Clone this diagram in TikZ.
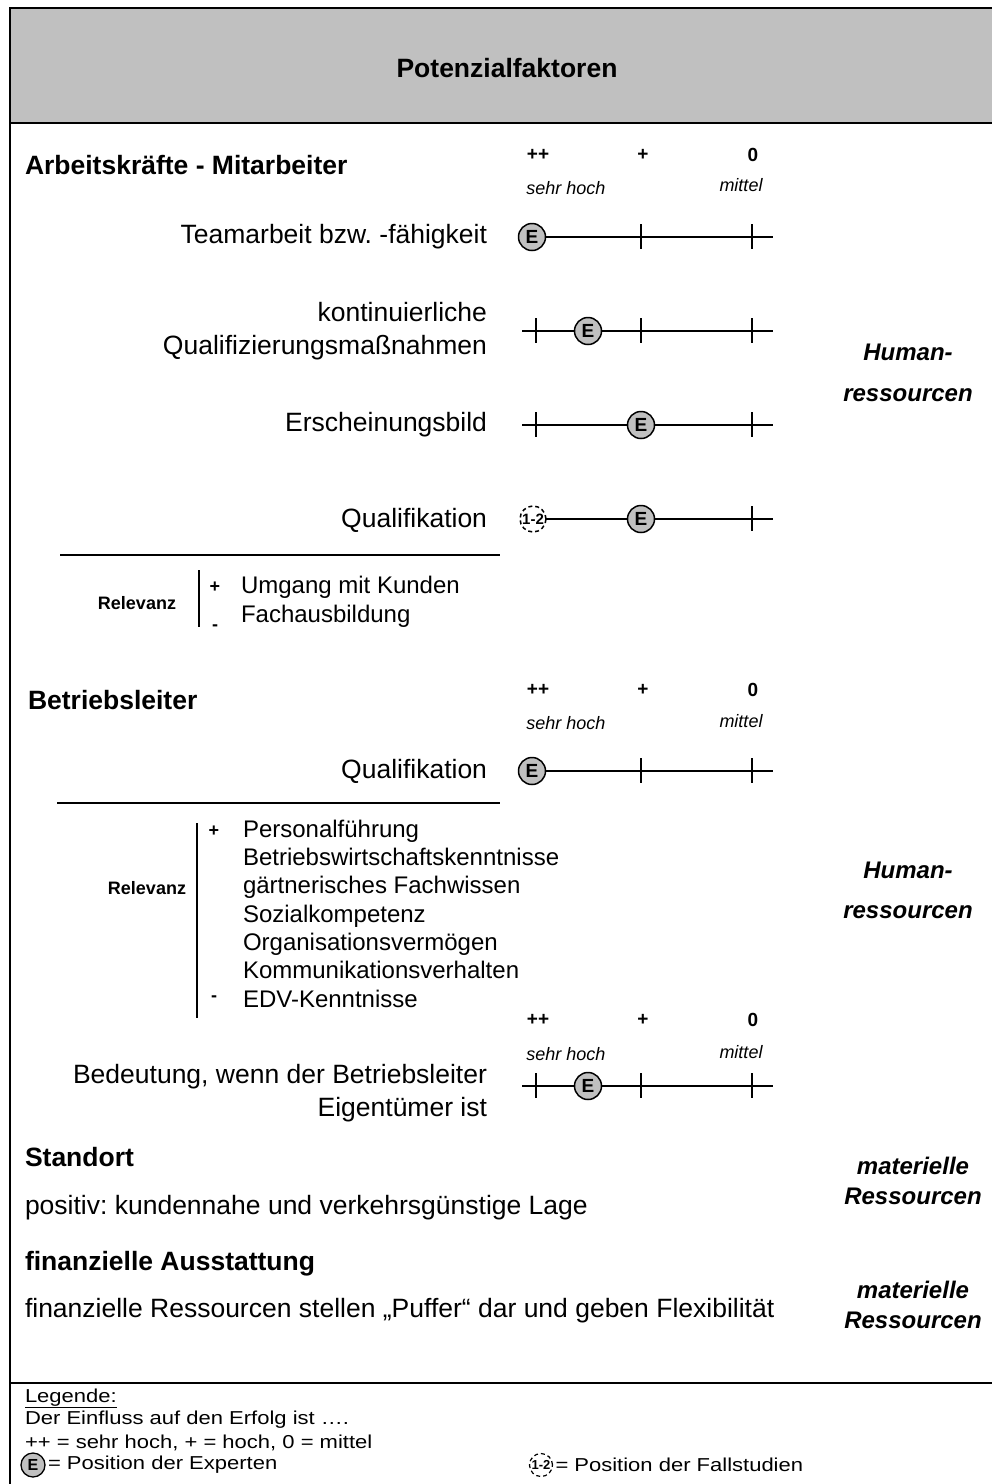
\documentclass[tikz,border=0pt]{standalone}
\usepackage{fontspec}
\usepackage{graphicx}
\setmainfont{Liberation Sans}
\frenchspacing
\definecolor{panelgray}{RGB}{192,192,192}
\newcommand\tickat[1]{\draw[tickmark] ([yshift=13pt]#1) -- ([yshift=-12pt]#1);}
\newcommand\legtext[1]{\scalebox{1}[0.85]{#1}}
\begin{document}
\begin{tikzpicture}[x=1pt,y=-1pt,
  every node/.style={inner sep=0pt, outer sep=0pt},
  txt/.style={font=\fontsize{26.5}{33}\selectfont},
  hd/.style={font=\fontsize{26.5}{32}\selectfont\bfseries},
  item/.style={font=\fontsize{24}{28}\selectfont, anchor=west, text height=17pt, text depth=5pt},
  sg/.style={font=\fontsize{19}{22}\selectfont\bfseries},
  sgi/.style={font=\fontsize{18}{22}\selectfont\itshape},
  res/.style={font=\fontsize{24}{30}\selectfont\bfseries\itshape, align=center},
  rel/.style={font=\fontsize{18}{22}\selectfont\bfseries},
  leg/.style={font=\fontsize{22}{22}\selectfont, anchor=west},
  emark/.style={circle, draw, line width=1.5pt, fill=panelgray, minimum size=27pt,
    font=\fontsize{19}{19}\selectfont\bfseries},
  cmark/.style={circle, draw, dashed, dash pattern=on 4pt off 3pt, line width=1.5pt,
    minimum size=26pt, font=\fontsize{15}{15}\selectfont\bfseries},
  axis/.style={line width=2pt},
  tickmark/.style={line width=2pt},
  rule/.style={line width=1.6pt},
]
\useasboundingbox (0,0) rectangle (992,1484);

% frame and title bar
\fill[panelgray] (10,8) rectangle (1000,123);
\draw[line width=2.2pt] (10,1500) -- (10,8) -- (1000,8);
\draw[line width=2.2pt] (10,123) -- (1000,123);
\draw[line width=1.8pt] (10,1383) -- (1000,1383);
\node[hd] (title) at (507,68) {Potenzialfaktoren};

% ---------- Arbeitskraefte - Mitarbeiter ----------
\node[hd, anchor=west] (h1) at (25,165) {Arbeitskräfte - Mitarbeiter};
\node[sg] (s1a) at (538,155) {++};
\node[sg] (s1b) at (643,155) {+};
\node[sg] (s1c) at (753,155) {0};
\node[sgi] (s1d) at (566,188) {sehr hoch};
\node[sgi] (s1e) at (741,185) {mittel};

% Teamarbeit
\node[txt, anchor=east] (r1) at (487,237) {Teamarbeit bzw. -fähigkeit};
\coordinate (r1b) at (641,237); \coordinate (r1c) at (752,237); \coordinate (r1z) at (773,237);
\node[emark] (e1) at (532,237) {E};
\draw[axis] (e1) -- (r1z);
\tickat{r1b} \tickat{r1c}

% kontinuierliche Qualifizierung
\node[txt, anchor=east, align=right] (r2) at (487,331) {kontinuierliche\\Qualifizierungsmaßnahmen};
\coordinate (r2s) at (522,331); \coordinate (r2a) at (536,331); \coordinate (r2b) at (641,331);
\coordinate (r2c) at (752,331); \coordinate (r2z) at (773,331);
\draw[axis] (r2s) -- (r2z);
\tickat{r2a} \tickat{r2b} \tickat{r2c}
\node[emark] (e2) at (588,331) {E};

% Erscheinungsbild
\node[txt, anchor=east] (r3) at (487,425) {Erscheinungsbild};
\coordinate (r3s) at (522,425); \coordinate (r3a) at (536,425);
\coordinate (r3c) at (752,425); \coordinate (r3z) at (773,425);
\draw[axis] (r3s) -- (r3z);
\tickat{r3a} \tickat{r3c}
\node[emark] (e3) at (641,425) {E};

% Qualifikation
\node[txt, anchor=east] (r4) at (487,520) {Qualifikation};
\coordinate (r4c) at (752,519); \coordinate (r4z) at (773,519);
\node[cmark] (c4) at (533,519) {1-2};
\draw[axis] (c4) -- (r4z);
\tickat{r4c}
\node[emark] (e4) at (641,519) {E};

% Relevanz 1
\draw[rule] (60,555) -- (500,555);
\node[rel] (rv1) at (137,603) {Relevanz};
\coordinate (rv1t) at (199,570); \coordinate (rv1u) at (199,627);
\draw[line width=1.6pt] (rv1t) -- (rv1u);
\node[rel] (rv1p) at (215,587) {+};
\node[rel] (rv1m) at (215,628) {-};
\node[item] (rv1i1) at (241,587) {Umgang mit Kunden};
\node[item] (rv1i2) at (241,616) {Fachausbildung};

% ---------- Betriebsleiter ----------
\node[hd, anchor=west] (h2) at (28,700) {Betriebsleiter};
\node[sg] (s2a) at (538,690) {++};
\node[sg] (s2b) at (643,690) {+};
\node[sg] (s2c) at (753,690) {0};
\node[sgi] (s2d) at (566,723) {sehr hoch};
\node[sgi] (s2e) at (741,721) {mittel};

\node[txt, anchor=east] (r5) at (487,771) {Qualifikation};
\coordinate (r5b) at (641,771); \coordinate (r5c) at (752,771); \coordinate (r5z) at (773,771);
\node[emark] (e5) at (532,771) {E};
\draw[axis] (e5) -- (r5z);
\tickat{r5b} \tickat{r5c}

% Relevanz 2
\draw[rule] (57,803) -- (500,803);
\node[rel] (rv2) at (147,888) {Relevanz};
\coordinate (rv2t) at (197,823); \coordinate (rv2u) at (197,1018);
\draw[line width=1.6pt] (rv2t) -- (rv2u);
\node[rel] (rv2p) at (214,831) {+};
\node[rel] (rv2m) at (214,999) {-};
\node[item] (rv2i1) at (243,831) {Personalführung};
\node[item] (rv2i2) at (243,859) {Betriebswirtschaftskenntnisse};
\node[item] (rv2i3) at (243,887) {gärtnerisches Fachwissen};
\node[item] (rv2i4) at (243,916) {Sozialkompetenz};
\node[item] (rv2i5) at (243,944) {Organisationsvermögen};
\node[item] (rv2i6) at (243,972) {Kommunikationsverhalten};
\node[item] (rv2i7) at (243,1001) {EDV-Kenntnisse};

% Bedeutung Eigentuemer
\node[sg] (s3a) at (538,1020) {++};
\node[sg] (s3b) at (643,1020) {+};
\node[sg] (s3c) at (753,1020) {0};
\node[sgi] (s3d) at (566,1054) {sehr hoch};
\node[sgi] (s3e) at (741,1052) {mittel};

\node[txt, anchor=east, align=right] (r6) at (487,1093) {Bedeutung, wenn der Betriebsleiter\\Eigentümer ist};
\coordinate (r6s) at (522,1086); \coordinate (r6a) at (536,1086); \coordinate (r6b) at (641,1086);
\coordinate (r6c) at (752,1086); \coordinate (r6z) at (773,1086);
\draw[axis] (r6s) -- (r6z);
\tickat{r6a} \tickat{r6b} \tickat{r6c}
\node[emark] (e6) at (588,1086) {E};

% resource labels
\node[res] (hr1) at (908,373) {Human-\\[11pt]ressourcen};
\node[res] (hr2) at (908,890) {Human-\\[10pt]ressourcen};
\node[res] (mr1) at (913,1181) {materielle\\Ressourcen};
\node[res] (mr2) at (913,1305) {materielle\\Ressourcen};

% Standort / finanzielle Ausstattung
\node[hd, anchor=west] (h3) at (25,1157) {Standort};
\node[txt, anchor=west] (t3) at (25,1208) {positiv: kundennahe und verkehrsgünstige Lage};
\node[hd, anchor=west] (h4) at (25,1264) {finanzielle Ausstattung};
\node[txt, anchor=west] (t4) at (25,1311) {finanzielle Ressourcen stellen „Puffer“ dar und geben Flexibilität};

% legend
\node[leg] (l1) at (25,1398) {\legtext{\underline{Legende:}}};
\node[leg] (l2) at (25,1420) {\legtext{Der Einfluss auf den Erfolg ist ….}};
\node[leg] (l3) at (25,1443) {\legtext{++ = sehr hoch, + = hoch, 0 = mittel}};
\node[emark, minimum size=24pt, line width=1.3pt, font=\fontsize{16}{16}\selectfont\bfseries] (le) at (33,1465) {E};
\node[leg, anchor=west] (l4) at ([xshift=3pt]le.east) {\legtext{= Position der Experten}};
\node[cmark, minimum size=23pt, line width=1.2pt, font=\fontsize{13}{13}\selectfont\bfseries] (lc) at (541,1465) {1-2};
\node[leg, anchor=west] (l5) at ([xshift=3pt]lc.east) {\legtext{= Position der Fallstudien}};
\end{tikzpicture}
\end{document}
